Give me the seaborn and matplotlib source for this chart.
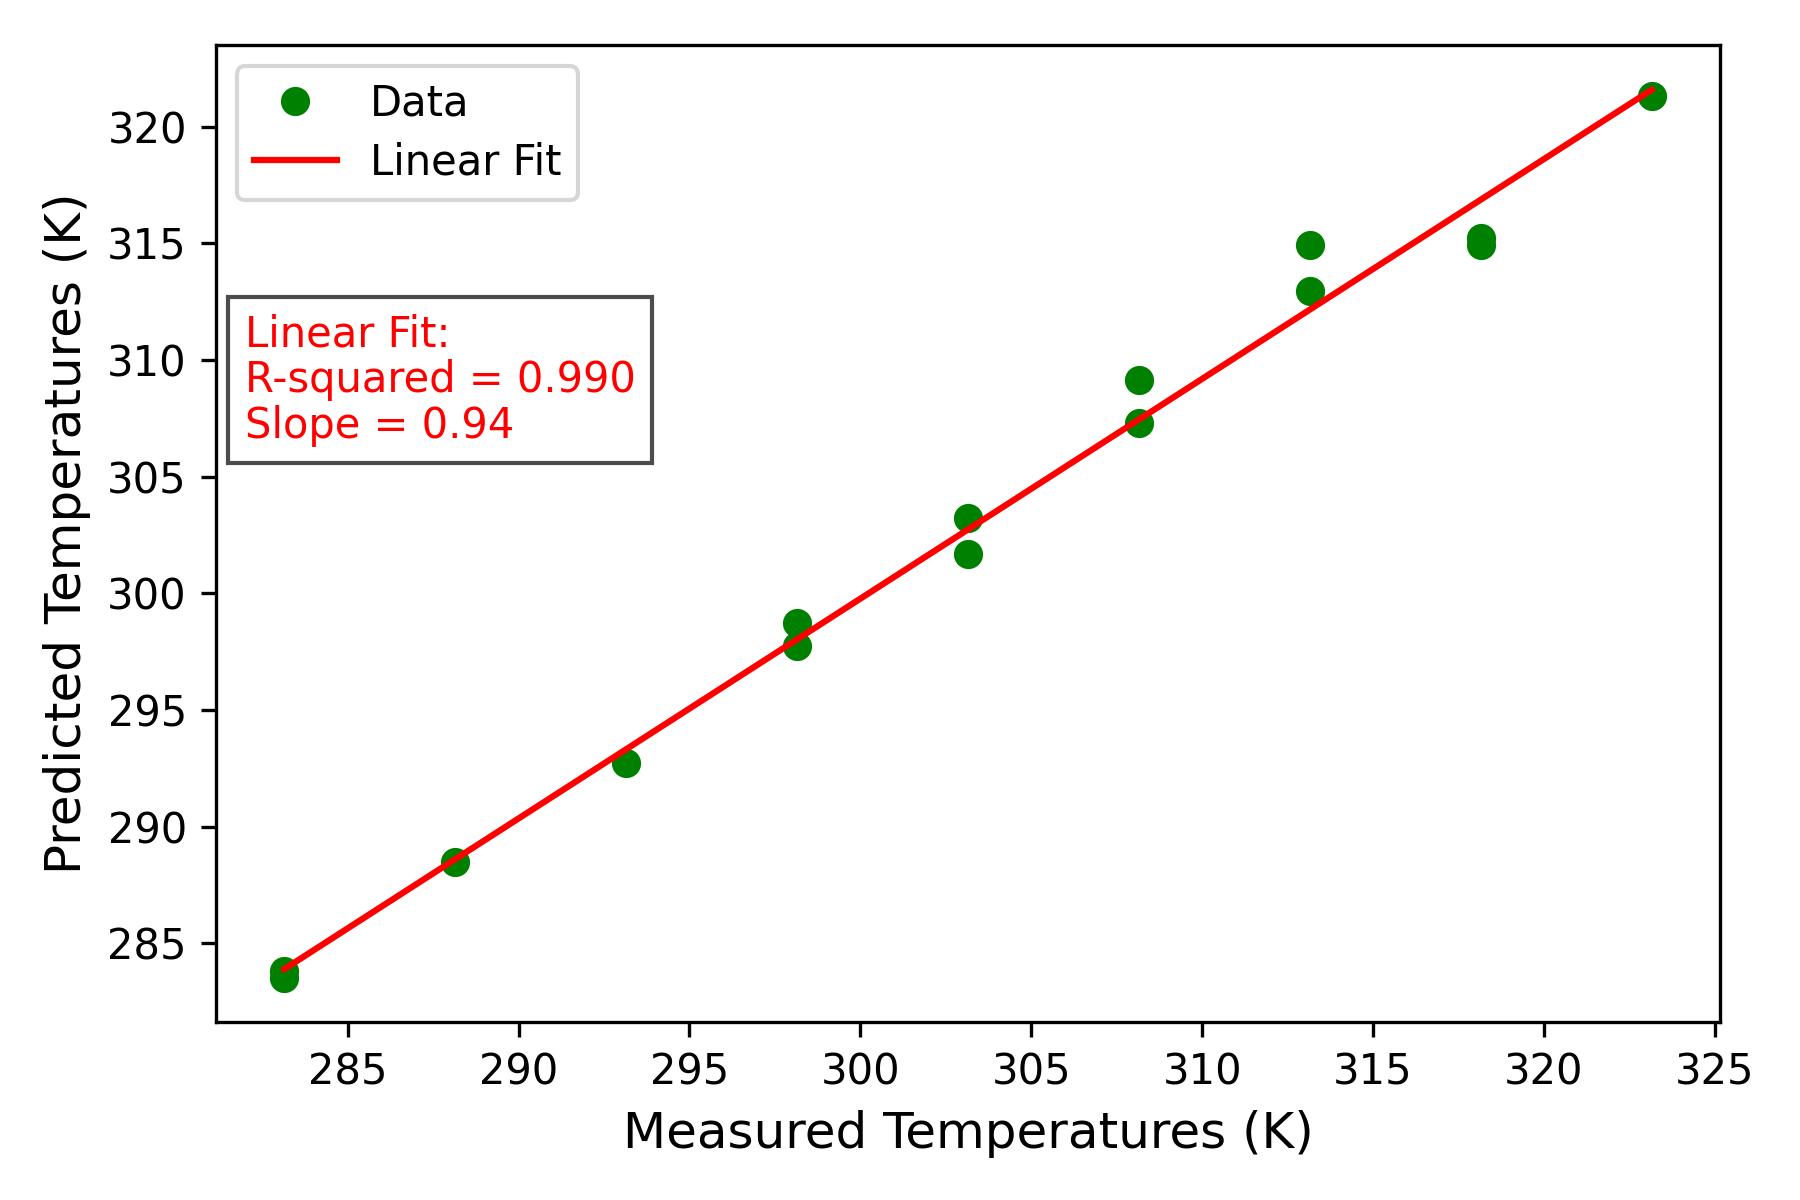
import numpy as np
import pandas as pd
import matplotlib
matplotlib.use("Agg")
import matplotlib.pyplot as plt
import seaborn as sns

# measured vs predicted temperatures (K)
measured = [283.15, 283.15, 288.15, 293.15, 298.15, 298.15, 303.15, 303.15,
            308.15, 308.15, 313.15, 313.15, 318.15, 318.15, 323.15]
predicted = [283.82, 283.53, 288.49, 292.72, 298.72, 297.73, 303.24, 301.67,
             309.14, 307.32, 314.94, 312.97, 315.24, 314.94, 321.33]

fit_text = "Linear Fit:\nR-squared = 0.990\nSlope = 0.94"

df = pd.DataFrame({"measured": measured, "predicted": predicted})

# linear fit through the data
slope, intercept = np.polyfit(df["measured"], df["predicted"], 1)
x_fit = np.array([min(measured), max(measured)])
df_fit = pd.DataFrame({"measured": x_fit, "predicted": slope * x_fit + intercept})

fig, ax = plt.subplots(figsize=(6, 4), dpi=300)

# points drawn as markers only (no aggregation of repeated x values)
sns.lineplot(data=df, x="measured", y="predicted", ax=ax, estimator=None,
             sort=False, color="green", linestyle="", marker="o",
             markersize=6, markeredgecolor="green", markeredgewidth=1,
             label="Data")
sns.lineplot(data=df_fit, x="measured", y="predicted", ax=ax, color="red",
             linewidth=1.5, label="Linear Fit")

ax.set_xlabel("Measured Temperatures (K)", fontsize=12)
ax.set_ylabel("Predicted Temperatures (K)", fontsize=12)
ax.legend(loc="upper left", fontsize=10, labelspacing=0.4)

ax.text(0.019, 0.725, fit_text, transform=ax.transAxes, fontsize=10,
        color="red", va="top", ha="left", linespacing=1.1,
        bbox=dict(facecolor="white", alpha=0.7, pad=4))

fig.subplots_adjust(left=0.12, right=0.9556, bottom=0.1483, top=0.9622)
plt.savefig("out.png", dpi=300)
